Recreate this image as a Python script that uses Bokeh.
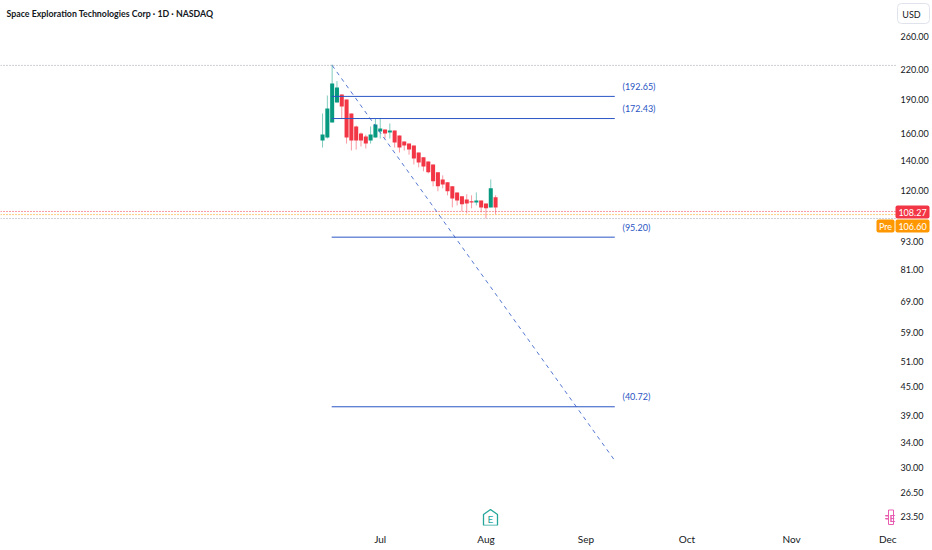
from bokeh.plotting import figure
from bokeh.embed import file_html
from bokeh.resources import INLINE
from bokeh.models import FixedTicker, Label, BoxAnnotation, PolyAnnotation, ColumnDataSource, NumeralTickFormatter
from bokeh.core.properties import value

opens = [154.4,156.8,169.0,186.8,194.5,189.6,176.8,165.7,160.0,157.6,154.4,156.8,161.6,163.2,160.8,162.4,158.4,153.7,152.1,150.6,145.4,142.0,139.1,137.0,131.7,127.1,125.3,122.8,119.1,116.8,115.0,113.9,113.3,114.4,112.7,110.5,116.2]
highs = [176.8,193.5,226.0,208.0,194.5,189.6,176.8,166.5,160.8,159.0,165.7,172.4,172.4,163.2,168.2,162.4,158.4,153.7,152.1,150.6,145.4,142.0,139.1,137.0,131.7,129.7,125.3,122.8,119.1,116.8,118.0,117.4,119.1,114.4,112.7,127.1,117.4]
lows = [149.1,156.0,169.0,186.8,172.4,152.1,146.9,147.6,149.9,148.4,152.1,156.8,156.0,156.0,156.0,149.1,145.4,146.9,143.9,137.0,135.0,132.4,131.0,122.8,119.8,121.6,117.4,110.5,111.6,108.3,107.2,110.0,111.6,107.8,104.5,110.5,106.7]
closes = [159.2,181.3,205.5,201.4,183.1,156.8,154.4,154.4,154.4,152.1,159.2,167.3,164.0,160.0,162.4,152.9,149.1,150.6,147.6,141.1,138.4,135.7,131.7,125.9,122.8,124.0,119.8,115.6,114.4,112.2,112.7,113.3,114.4,110.5,110.0,121.6,110.5]

fib_levels = [192.65, 172.43, 95.20, 40.72]
fib_labels = ["(192.65)", "(172.43)", "(95.20)", "(40.72)"]
trend_x = [2, 60.8]
trend_y = [225.0, 31.1]
fib_start, fib_end = 1.9, 60.8
X0, X_AXIS, X1 = -67.0, 119.2, 126.9
ref_lines = [(225.0, "#9a9ea8"), (108.27, "#f23645"), (106.60, "#ff9800"), (104.5, "#9a9ea8")]

y_ticks = [260, 220, 190, 160, 140, 120, 93, 81, 69, 59, 51, 45, 39, 34, 30, 26.5, 23.5]
x_ticks = [12, 34, 54.8, 75.8, 97.6, 117.6]
x_tick_labels = ["Jul", "Aug", "Sep", "Oct", "Nov", "Dec"]

UP, DOWN = "#089981", "#f23645"
BLUE = "#2a55c4"
PINK = "#e85cb0"
FONT = "Lato"
TXT = "#131722"

p = figure(width=932, height=550, frame_width=932, frame_height=525,
           x_range=(X0, X1), y_range=(22.47, 311.4), y_axis_type="log",
           y_axis_location="right", output_backend="svg", toolbar_location=None,
           min_border_left=0, min_border_top=0, min_border_right=0, min_border_bottom=25,
           outline_line_color=None, background_fill_color="white", border_fill_color="white")
p.grid.visible = False

idx = list(range(len(opens)))
colors = [UP if c >= o else DOWN for o, c in zip(opens, closes)]
src = ColumnDataSource(dict(x=idx, o=opens, h=highs, l=lows, c=closes, color=colors))
p.segment("x", "h", "x", "l", source=src, color="color", line_width=1, line_alpha=0.5)
p.vbar("x", width=0.84, top="o", bottom="c", source=src, fill_color="color", line_color=None)

for lvl, col in ref_lines:
    p.line([X0, X_AXIS], [lvl, lvl], line_color=col, line_width=1, line_dash="1 2")

for lvl, txt in zip(fib_levels, fib_labels):
    p.line([fib_start, fib_end], [lvl, lvl], line_color=BLUE, line_width=1)
    p.text([fib_end + 1.6], [lvl], text=[txt], text_color=BLUE, text_font=value(FONT),
           text_font_size="9px", text_baseline="middle", y_offset=-10)
p.line(trend_x, trend_y, line_color=BLUE, line_width=1, line_alpha=0.8, line_dash="4 4")

xa = p.xaxis[0]
xa.ticker = FixedTicker(ticks=x_ticks)
xa.major_label_overrides = dict(zip(x_ticks, x_tick_labels))
xa.axis_line_color = None
xa.major_tick_line_color = None
xa.minor_tick_line_color = None
xa.major_tick_out = 0
xa.major_label_text_font = FONT
xa.major_label_text_font_size = "10px"
xa.major_label_text_color = TXT
xa.major_label_standoff = 7

ya = p.yaxis[0]
ya.ticker = FixedTicker(ticks=y_ticks)
ya.formatter = NumeralTickFormatter(format="0.00")
ya.fixed_location = X_AXIS
ya.axis_line_color = None
ya.major_tick_line_color = None
ya.minor_tick_line_color = None
ya.major_tick_out = 0
ya.major_label_text_font = FONT
ya.major_label_text_font_size = "9px"
ya.major_label_text_color = TXT
ya.major_label_standoff = 5

def box(l, r, t, b, fill, line=None, radius=2):
    p.add_layout(BoxAnnotation(left=l, right=r, top=t, bottom=b, left_units="canvas", right_units="canvas",
                               top_units="canvas", bottom_units="canvas", fill_color=fill, fill_alpha=1,
                               line_color=line, line_alpha=1, line_width=1, border_radius=radius))

def lab(x, y, txt, color=TXT, size="9px", align="center", style="normal"):
    p.add_layout(Label(x=x, y=y, x_units="canvas", y_units="canvas", text=txt, text_color=color,
                       text_font=FONT, text_font_size=size, text_align=align, text_baseline="middle",
                       text_font_style=style))

lab(6, 13, "Space Exploration Technologies Corp · 1D · NASDAQ", size="8.8px", align="left", style="bold")
box(897, 929, 23, 3, "white", "#e0e3eb", 4)
lab(911, 14, "USD")
box(895, 929, 218, 205, "#f23645")
lab(912, 212, "108.27", "white")
box(895, 929, 232, 219, "#ff9800")
lab(912, 226, "106.60", "white")
box(876, 894, 232, 219, "#ff9800")
lab(885, 226, "Pre", "white")

p.add_layout(PolyAnnotation(xs=[483, 490, 497, 497, 483], ys=[514, 509, 514, 525, 525],
                            xs_units="canvas", ys_units="canvas", fill_color="white", fill_alpha=1,
                            line_color="#26a69a", line_alpha=1, line_width=1.3))
lab(490, 518, "E", "#26a69a", "10px")
p.add_layout(PolyAnnotation(xs=[893, 888, 888, 893], ys=[509.5, 509.5, 524, 524],
                            xs_units="canvas", ys_units="canvas", fill_color="white", fill_alpha=0,
                            line_color=PINK, line_alpha=1, line_width=1))
box(885, 888, 515.5, 515, PINK, PINK, 0)
box(885, 888, 518.5, 518, PINK, PINK, 0)
lab(892, 517, "E", PINK, "10px", style="bold")

open("out.html", "w").write(file_html(p, INLINE))
